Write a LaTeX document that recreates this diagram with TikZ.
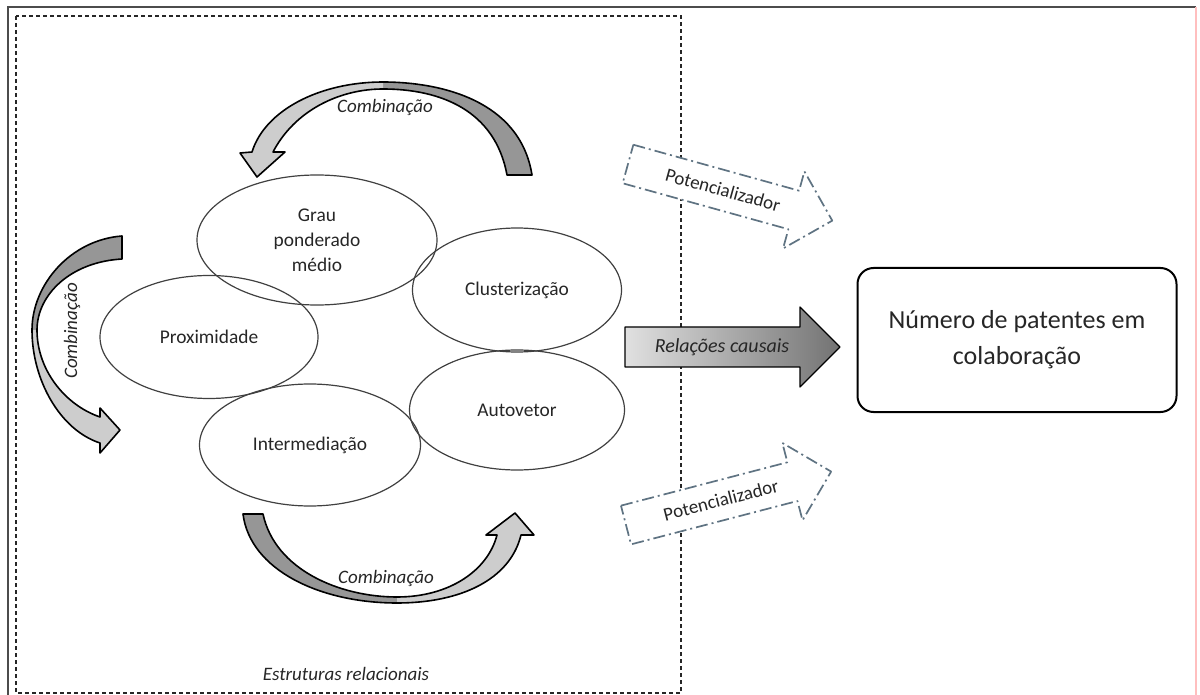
\documentclass[tikz,border=0pt]{standalone}
\usepackage{fontspec}
\setmainfont{Carlito}
\usetikzlibrary{shapes.geometric}
\usetikzlibrary{positioning}
\definecolor{potcol}{RGB}{95,115,130}
\definecolor{darkband}{RGB}{150,150,150}
\definecolor{lightband}{RGB}{205,205,205}

\begin{document}
\begin{tikzpicture}[x=0.5pt,y=-0.5pt,
    elli/.style={ellipse,draw=black!75,line width=0.6pt,inner sep=0pt,align=center,text=black!85,font=\fontsize{9.7}{12.5}\selectfont},
    lbl/.style={text=black!85,font=\fontsize{9.5}{11}\selectfont\itshape},
    band/.style={draw=black,line width=0.8pt,line join=round},
    potarrow/.style={draw=potcol,fill=white,line width=0.85pt,line join=round,dash pattern=on 6pt off 2pt on 1pt off 2pt},
    ]
    \useasboundingbox (0,0) rectangle (1200,695);
    % frames
    \draw[black!70,line width=0.6pt] (8,700) -- (8,7) -- (1196,7);
    \draw[red!25,line width=0.6pt] (1196,7) -- (1196,700);
    \draw[black!85,line width=0.6pt,dash pattern=on 2pt off 1.5pt] (16,16) rectangle (681,693);
    \node[lbl] (estr) at (346,674) {Estruturas relacionais};

    % measures
    \node[elli,minimum width=120pt,minimum height=65pt] (grau) at (317,240) {Grau\\ponderado\\médio};
    \node[elli,minimum width=104.5pt,minimum height=62pt] (clust) at (517,290) {Clusterização};
    \node[elli,minimum width=109pt,minimum height=61.5pt] (prox) at (209,337) {Proximidade};
    \node[elli,minimum width=107.5pt,minimum height=60pt] (auto) at (517,410) {Autovetor};
    \node[elli,minimum width=110.5pt,minimum height=61pt] (inter) at (310,445) {Intermediação};

    % top curved arrow
    \fill[darkband] (507,175) -- (532,175) .. controls (520,100) and (440,82) .. (383,82)
        -- (383,89) .. controls (440,89) and (495,110) .. (507,175) -- cycle;
    \fill[lightband] (383,82) .. controls (320,82) and (265,110) .. (252,152) -- (240,153) -- (257,177)
        -- (285,152) -- (273,152) .. controls (295,110) and (340,89) .. (383,89) -- cycle;
    \draw[band] (507,175) -- (532,175) .. controls (520,100) and (440,82) .. (383,82)
        .. controls (320,82) and (265,110) .. (252,152) -- (240,153) -- (257,177) -- (285,152) -- (273,152)
        .. controls (295,110) and (340,89) .. (383,89) .. controls (440,89) and (495,110) .. (507,175) -- cycle;
    \node[lbl] (comb1) at (385,107) {Combinação};

    % left curved arrow
    \fill[darkband] (122,236) .. controls (70,240) and (32,285) .. (32,330)
        -- (37,330) .. controls (37,295) and (70,262) .. (122,259) -- cycle;
    \fill[lightband] (32,330) .. controls (32,380) and (60,430) .. (100,443) -- (100,453) -- (120,430)
        -- (100,408) -- (100,417) .. controls (65,405) and (37,370) .. (37,330) -- cycle;
    \draw[band] (122,236) .. controls (70,240) and (32,285) .. (32,330)
        .. controls (32,380) and (60,430) .. (100,443) -- (100,453) -- (120,430) -- (100,408) -- (100,417)
        .. controls (65,405) and (37,370) .. (37,330) .. controls (37,295) and (70,262) .. (122,259) -- cycle;
    \node[lbl,rotate=90] (comb2) at (72,331) {Combinação};

    % bottom curved arrow
    \fill[darkband] (243,514) -- (263,514) .. controls (275,570) and (340,597) .. (397,597)
        -- (397,603) .. controls (320,603) and (250,570) .. (243,514) -- cycle;
    \fill[lightband] (397,597) .. controls (450,597) and (488,570) .. (497,535) -- (486,535) -- (515,513)
        -- (534,535) -- (521,535) .. controls (510,580) and (460,603) .. (397,603) -- cycle;
    \draw[band] (243,514) -- (263,514) .. controls (275,570) and (340,597) .. (397,597)
        .. controls (450,597) and (488,570) .. (497,535) -- (486,535) -- (515,513) -- (534,535) -- (521,535)
        .. controls (510,580) and (460,603) .. (397,603) .. controls (320,603) and (250,570) .. (243,514) -- cycle;
    \node[lbl] (comb3) at (386,578) {Combinação};

    % causal arrow
    \shade[left color=black!12,right color=black!55] (625,327) -- (800,327) -- (800,307) -- (840,347)
        -- (800,387) -- (800,367) -- (625,367) -- cycle;
    \draw[band,line width=0.6pt] (625,327) -- (800,327) -- (800,307) -- (840,347)
        -- (800,387) -- (800,367) -- (625,367) -- cycle;
    \node[lbl,font=\fontsize{10}{12}\selectfont\itshape] (rel) at (722,347) {Relações causais};

    % potentiating arrows
    \begin{scope}[shift={(628,164)},rotate=-15.5]
        \draw[potarrow] (0,-20) -- (172,-20) -- (172,-40) -- (212,0) -- (172,40) -- (172,20) -- (0,20) -- cycle;
    \end{scope}
    \node[text=black!85,font=\fontsize{9.5}{11}\selectfont,rotate=-15.5] (pot1) at (723,190) {Potencializador};
    \begin{scope}[shift={(626,525)},rotate=14.6]
        \draw[potarrow] (0,-20) -- (172,-20) -- (172,-40) -- (212,0) -- (172,40) -- (172,20) -- (0,20) -- cycle;
    \end{scope}
    \node[text=black!85,font=\fontsize{9.5}{11}\selectfont,rotate=14.6] (pot2) at (721,500) {Potencializador};

    % outcome
    \node[draw=black,line width=1pt,rounded corners=8pt,minimum width=159.5pt,minimum height=72pt,
        align=center,text=black!85,font=\fontsize{13}{18}\selectfont] (res) at (1017,340)
        {Número de patentes em\\colaboração};
\end{tikzpicture}
\end{document}
